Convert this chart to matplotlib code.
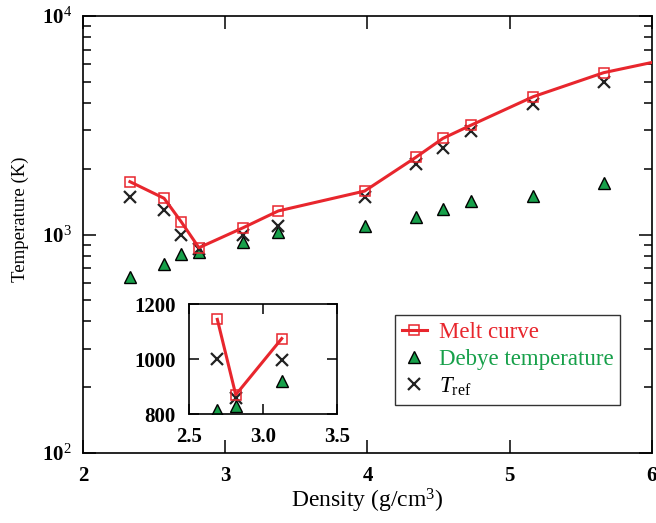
import matplotlib
matplotlib.use("Agg")
import matplotlib.pyplot as plt
from matplotlib.ticker import LogLocator, NullFormatter

plt.rcParams['font.family'] = ['Liberation Serif', 'DejaVu Serif']
plt.rcParams['mathtext.fontset'] = 'custom'
plt.rcParams['mathtext.rm'] = 'Liberation Serif'
plt.rcParams['mathtext.it'] = 'Liberation Serif:italic'
plt.rcParams['mathtext.bf'] = 'Liberation Serif:bold'

# density (g/cm^3) and temperatures (K)
density = [2.33, 2.57, 2.69, 2.815, 3.127, 3.373, 3.98, 4.34, 4.53, 4.73, 5.165, 5.66, 6.02]
melt = [1745, 1465, 1145, 870, 1075, 1282, 1581, 2256, 2754, 3170, 4273, 5503, 6170]
debye = [641, 730, 813, 830, 921, 1023, 1097, 1199, 1303, 1422, 1500, 1713]
t_ref = [1489, 1294, 1000, 860, 998, 1097, 1489, 2103, 2476, 2977, 3945, 4976]

x_ticks = [2, 3, 4, 5, 6]
y_ticks = [100, 1000, 10000]
y_labels = [r'$\mathbf{10}^{2}$', r'$\mathbf{10}^{3}$', r'$\mathbf{10}^{4}$']
inset_xticks = [2.5, 3.0, 3.5]
inset_yticks = [800, 1000, 1200]

red = '#e8262d'
green = '#17a04a'

fig = plt.figure(figsize=(6.56, 5.23), dpi=100)
ax = fig.add_axes([0.1265, 0.1338, 0.8674, 0.8356])

ax.plot(density, melt, color=red, lw=2.2, marker='s', ms=7, mfc='none',
        mec=red, mew=1.1, markevery=list(range(len(melt) - 1)), label='Melt curve', zorder=3)
ax.plot(density[:len(debye)], debye, ls='none', marker='^', ms=8, mfc=green,
        mec='black', mew=1.0, label='Debye temperature', zorder=2)
ax.plot(density[:len(t_ref)], t_ref, ls='none', marker='x', ms=8, mew=1.6,
        color='#222222', label=r'$T_{\mathrm{ref}}$', zorder=2)

ax.set_yscale('log')
ax.set_xlim(2, 6)
ax.set_ylim(100, 10000)
ax.set_xticks(x_ticks)
ax.set_xticklabels([str(v) for v in x_ticks], fontweight='bold')
ax.set_yticks(y_ticks)
ax.set_yticklabels(y_labels)
ax.yaxis.set_minor_locator(LogLocator(base=10, subs=range(2, 10)))
ax.yaxis.set_minor_formatter(NullFormatter())
ax.tick_params(which='both', direction='in', top=True, right=True, width=1.1)
ax.tick_params(which='major', length=9.5, labelsize=15)
ax.tick_params(axis='x', which='major', pad=9)
ax.tick_params(axis='y', which='major', pad=8)
ax.tick_params(which='minor', length=5.8)
for s in ax.spines.values():
    s.set_linewidth(1.2)
ax.set_xlabel('Density (g/cm$^3$)', fontsize=17, labelpad=1)
ax.set_ylabel('Temperature (K)', fontsize=13.5)
ax.yaxis.set_label_coords(-0.095, 0.535)

leg = ax.legend(loc='upper left', bbox_to_anchor=(395 / 656, 1 - 315 / 523),
                bbox_transform=fig.transFigure, fontsize=16.5, frameon=True,
                fancybox=False, edgecolor='black', handlelength=1.1,
                borderpad=0.3, labelspacing=0.25, handletextpad=0.5,
                borderaxespad=0)
leg.get_frame().set_linewidth(1.0)
for txt, c in zip(leg.get_texts(), [red, green, 'black']):
    txt.set_color(c)

# inset zoom of the minimum region
ins = fig.add_axes([0.2886, 0.2084, 0.2247, 0.2098])
ins.plot(density[2:5], melt[2:5], color=red, lw=2.2, marker='s', ms=7,
         mfc='none', mec=red, mew=1.1, zorder=3)
ins.plot(density[2:5], debye[2:5], ls='none', marker='^', ms=8, mfc=green,
         mec='black', mew=1.0, zorder=2)
ins.plot(density[2:5], t_ref[2:5], ls='none', marker='x', ms=8, mew=1.6,
         color='#222222', zorder=2)
ins.set_xlim(2.5, 3.5)
ins.set_ylim(800, 1200)
ins.set_xticks(inset_xticks)
ins.set_xticklabels(['%.1f' % v for v in inset_xticks], fontweight='bold')
ins.set_yticks(inset_yticks)
ins.set_yticklabels([str(v) for v in inset_yticks], fontweight='bold')
ins.tick_params(direction='in', top=True, right=True, length=7, width=1.1,
                labelsize=15)
ins.tick_params(axis='y', pad=10)
ins.tick_params(axis='x', pad=9)
for s in ins.spines.values():
    s.set_linewidth(1.2)

fig.savefig('out.png', dpi=100)
